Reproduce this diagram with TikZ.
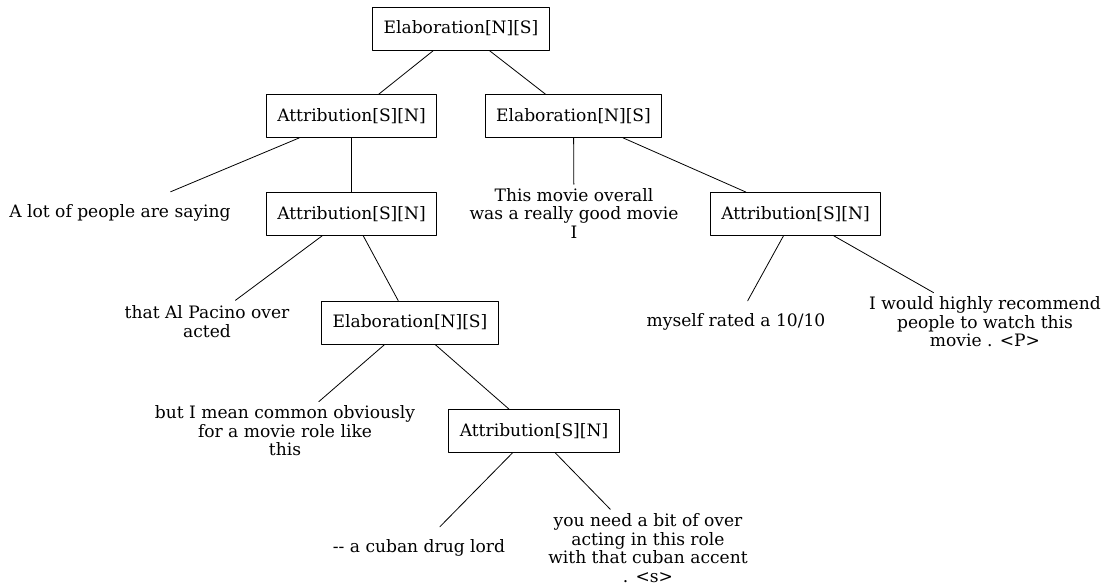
\documentclass[tikz,border=0pt]{standalone}
\usepackage{fontspec}
\setmainfont{DejaVu Serif}
\begin{document}
\begin{tikzpicture}[x=1pt,y=-1pt,line cap=round,line join=round,
		font=\fontsize{17.1}{18.5}\selectfont,
		rel/.style={draw, line width=0.8pt, minimum height=43, inner xsep=11},
		edu/.style={align=center, inner ysep=4, minimum height=42}]
			\useasboundingbox (0, 0) rectangle (1109, 588);
			
			\node[rel] (root) at (461, 28.5) {Elaboration[N][S]};
			\node[rel] (attrA) at (351.5, 116) {Attribution[S][N]};
			\node[rel] (elabB) at (573.5, 116) {Elaboration[N][S]};
			\node[rel] (attrC) at (351.5, 214) {Attribution[S][N]};
			\node[rel] (attrF) at (795.5, 214) {Attribution[S][N]};
			\node[rel] (elabD) at (410, 322.5) {Elaboration[N][S]};
			\node[rel] (attrE) at (534, 431) {Attribution[S][N]};
			
			\node[edu] (lot) at (120, 213) {A lot of people are saying};
			\node[edu] (pacino) at (207, 321.5) {that Al Pacino over\\acted};
			\node[edu] (common) at (285, 431) {but I mean common obviously\\for a movie role like\\this};
			\node[edu] (drug) at (419, 548) {-{}- a cuban drug lord};
			\node[edu] (accent) at (648, 548) {you need a bit of over\\acting in this role\\with that cuban accent\\. <s>};
			\node[edu] (overall) at (574, 213.5) {This movie overall\\was a really good movie\\I};
			\node[edu] (rated) at (736, 322) {myself rated a 10/10};
			\node[edu] (recommend) at (985, 322) {I would highly recommend\\people to watch this\\movie . <P>};
			
			\path[draw, line width=0.8pt]
			(root) -- (attrA) (root) -- (elabB)
			(attrA) -- (lot) (attrA) -- (attrC)
			(attrC) -- (pacino) (attrC) -- (elabD)
			(elabD) -- (common) (elabD) -- (attrE)
			(attrE) -- (drug) (attrE) -- (accent)
			(elabB) -- (overall) (elabB) -- (attrF)
			(attrF) -- (rated) (attrF) -- (recommend);
		\end{tikzpicture}
\end{document}
